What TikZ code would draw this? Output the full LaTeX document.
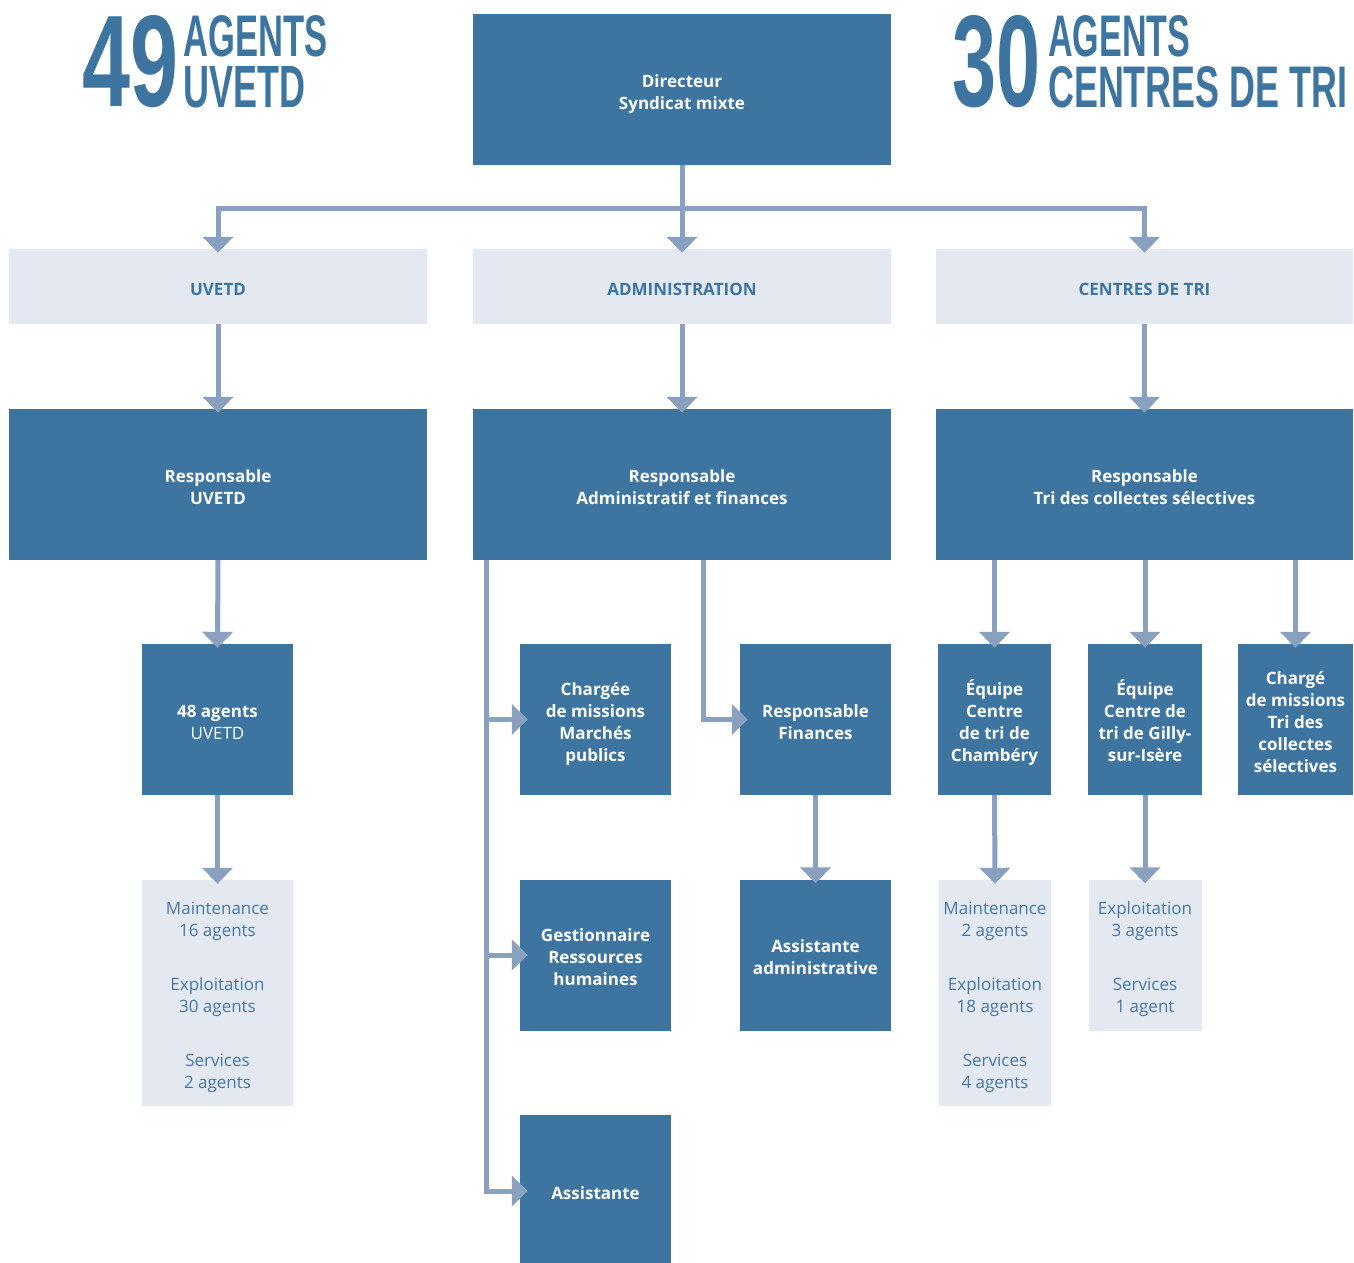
\documentclass[tikz,border=0pt]{standalone}
\usepackage{fontspec}
\usepackage{graphicx}
\setmainfont{Open Sans}
\newfontfamily\headfont{Liberation Sans}
\usetikzlibrary{arrows.meta,calc}
\definecolor{dk}{HTML}{3D75A0}
\definecolor{lt}{HTML}{E4E8F1}
\definecolor{ln}{HTML}{8AA0BF}
\definecolor{ltx}{HTML}{4479A6}
\newcommand\bxt[1]{\raisebox{0pt}[\dimexpr\height+8.5pt\relax][\depth]{\begin{tabular}{@{}c@{}}#1\end{tabular}}}
\newcommand\hdtwo[4]{\rlap{\raisebox{51pt}{\resizebox{#2}{41pt}{#1}}}\resizebox{#4}{41pt}{#3}}
\tikzset{
  dbox/.style={fill=dk, text=white, font=\bfseries\fontsize{17}{22}\selectfont, inner sep=0pt, minimum height=151pt},
  lbox/.style={fill=lt, text=ltx, font=\fontsize{17}{22}\selectfont, inner sep=0pt},
  hbox/.style={fill=lt, text=dk, font=\bfseries\fontsize{17}{22}\selectfont, inner sep=0pt, minimum height=75pt},
  conn/.style={draw=ln, line width=5pt, -{Triangle[width=30pt,length=16pt]}, shorten >=-4pt},
  hconn/.style={conn, shorten >=-8pt},
  head/.style={text=dk, anchor=south west, inner sep=0pt, font=\headfont\bfseries},
}
\begin{document}
\begin{tikzpicture}[x=1pt,y=-1pt]
\useasboundingbox (0,0) rectangle (1354,1262);

% headlines
\node[head] (n49) at (82,108) {\resizebox{96pt}{91pt}{49}};
\node[head] (h1) at (183,108) {\hdtwo{AGENTS}{144pt}{UVETD}{122pt}};
\node[head] (n30) at (952,108) {\resizebox{88pt}{91pt}{30}};
\node[head] (h2) at (1048,108) {\hdtwo{AGENTS}{142pt}{CENTRES DE TRI}{299pt}};

% level 1
\node[dbox, minimum width=418pt] (dir) at (682,89.5) {\bxt{Directeur\\Syndicat mixte}};
% level 2
\node[hbox, minimum width=418pt] (uv) at (218,286.5) {\bxt{UVETD}};
\node[hbox, minimum width=418pt] (adm) at (682,286.5) {\bxt{ADMINISTRATION}};
\node[hbox, minimum width=417pt] (tri) at (1144.5,286.5) {\bxt{CENTRES DE TRI}};
% level 3
\node[dbox, minimum width=418pt] (ruv) at (218,484.5) {\bxt{Responsable\\UVETD}};
\node[dbox, minimum width=418pt] (radm) at (682,484.5) {\bxt{Responsable\\Administratif et finances}};
\node[dbox, minimum width=417pt] (rtri) at (1144.5,484.5) {\bxt{Responsable\\Tri des collectes sélectives}};
% level 4
\node[dbox, minimum width=151pt] (ag48) at (217.5,719.5) {\bxt{48 agents\\\mdseries UVETD}};
\node[dbox, minimum width=151pt] (chm) at (595.5,719.5) {\bxt{Chargée\\de missions\\Marchés\\publics}};
\node[dbox, minimum width=151pt] (rfin) at (815.5,719.5) {\bxt{Responsable\\Finances}};
\node[dbox, minimum width=113pt] (ech) at (994.5,719.5) {\bxt{Équipe\\Centre\\de tri de\\Chambéry}};
\node[dbox, minimum width=114pt] (egi) at (1145,719.5) {\bxt{Équipe\\Centre de\\tri de Gilly-\\sur-Isère}};
\node[dbox, minimum width=115pt] (cgt) at (1295.5,719.5) {\bxt{Chargé\\de missions\\Tri des\\collectes\\sélectives}};
% level 5
\node[lbox, minimum width=151pt, minimum height=226pt] (muv) at (217.5,993) {\bxt{Maintenance\\16 agents\\[32pt]Exploitation\\30 agents\\[32pt]Services\\2 agents}};
\node[dbox, minimum width=151pt] (grh) at (595.5,955) {\bxt{Gestionnaire\\Ressources\\humaines}};
\node[dbox, minimum width=151pt] (aad) at (815.5,955) {\bxt{Assistante\\administrative}};
\node[lbox, minimum width=112pt, minimum height=226pt] (mch) at (995,993) {\bxt{Maintenance\\2 agents\\[32pt]Exploitation\\18 agents\\[32pt]Services\\4 agents}};
\node[lbox, minimum width=113pt, minimum height=151pt] (egx) at (1145,955) {\bxt{Exploitation\\3 agents\\[32pt]Services\\1 agent}};
% level 6
\node[dbox, minimum width=151pt, minimum height=152pt] (ast) at (595.5,1191) {\bxt{Assistante}};

% connectors
\coordinate (bar) at (682,208);
\draw[conn] (dir.south) -- (bar) -| (uv.north);
\draw[conn] (bar) -| (tri.north);
\draw[conn] (dir.south) -- (adm.north);

\draw[conn] (uv.south) -- (ruv.north);
\draw[conn] (adm.south) -- (radm.north);
\draw[conn] (tri.south) -- (rtri.north);

\draw[conn] (ruv.south) -- (ag48.north);
\draw[conn] (ag48.south) -- (muv.north);

\coordinate (ad1) at ($(radm.south west)+(14,0)$);
\coordinate (ad2) at ($(radm.south west)+(231,0)$);
\draw[hconn] (ad1) |- (chm.west);
\draw[hconn] (ad1) |- (grh.west);
\draw[hconn] (ad1) |- (ast.west);
\draw[hconn] (ad2) |- (rfin.west);
\draw[conn] (rfin.south) -- (aad.north);

\draw[conn] (rtri.south -| ech.north) -- (ech.north);
\draw[conn] (rtri.south -| egi.north) -- (egi.north);
\draw[conn] (rtri.south -| cgt.north) -- (cgt.north);
\draw[conn] (ech.south) -- (mch.north);
\draw[conn] (egi.south) -- (egx.north);
\end{tikzpicture}
\end{document}
